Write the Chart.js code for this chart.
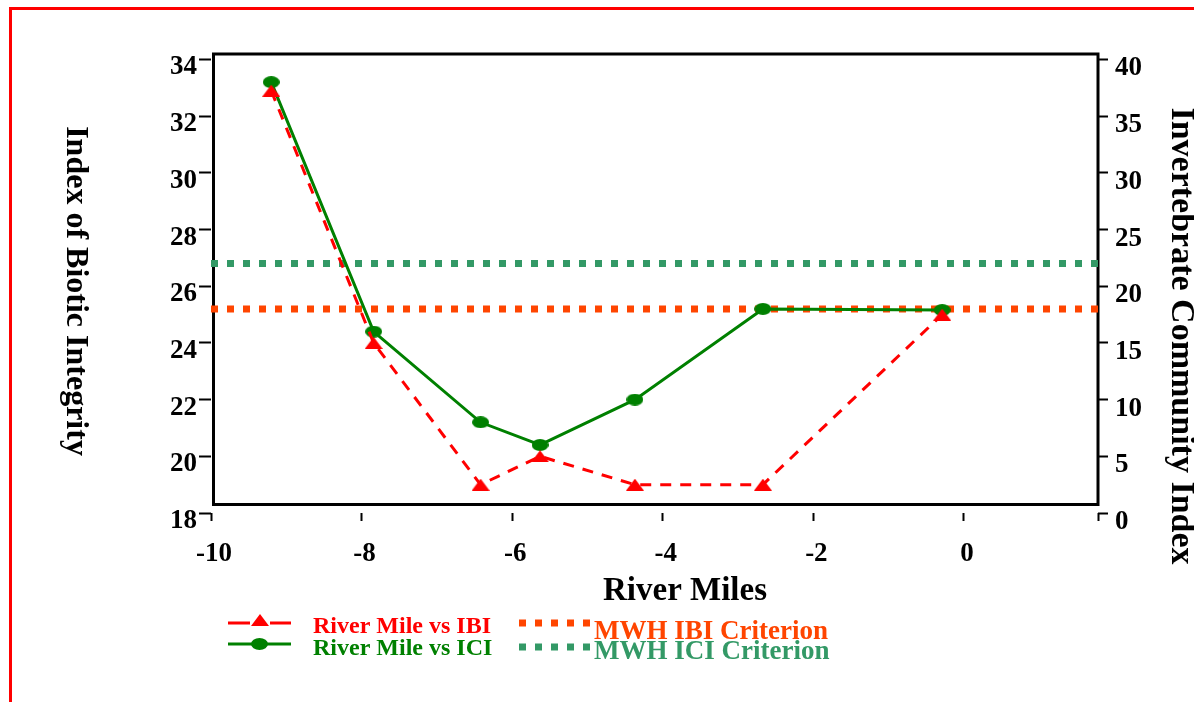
<!DOCTYPE html>
<html>
<head>
<meta charset="utf-8">
<script src="https://cdn.jsdelivr.net/npm/chart.js@4.4.1/dist/chart.umd.min.js"></script>
<style>
  body { margin: 0; background: #fff; }
  #wrap { width: 1194px; height: 702px; }
</style>
</head>
<body>
<div id="wrap"><canvas id="riverChart" width="1194" height="702"></canvas></div>
<script>
// values
var riverMiles = [-9.2, -7.84, -6.42, -5.63, -4.37, -2.67, -0.29];
var ibiValues = [32.9, 24, 19, 20, 19, 19, 25];
var iciValues = [38, 16, 8, 6, 10, 18, 17.9];
var criterionMiles = [-10, 1.78];
var ibiCriterion = [25.2, 25.2];
var iciCriterion = [22, 22];

var RED = '#ff0000', GREEN = '#008000', ORANGE = '#ff4500', SEA = '#339966';
var SERIF = '"Liberation Serif", "Times New Roman", serif';

function pairs(xs, ys) {
  return xs.map(function (x, i) { return { x: x, y: ys[i] }; });
}

// flat triangle / oval markers like the original
function triMarker(color) {
  var c = document.createElement('canvas');
  c.width = 18; c.height = 12;
  var g = c.getContext('2d');
  g.fillStyle = color;
  g.beginPath(); g.moveTo(9, 0); g.lineTo(18, 12); g.lineTo(0, 12); g.closePath(); g.fill();
  return c;
}
function ovalMarker(color) {
  var c = document.createElement('canvas');
  c.width = 17; c.height = 12;
  var g = c.getContext('2d');
  g.fillStyle = color;
  g.beginPath(); g.ellipse(8.5, 6, 8.5, 6, 0, 0, Math.PI * 2); g.fill();
  return c;
}
var tri = triMarker(RED), oval = ovalMarker(GREEN);

var tickFont = { family: SERIF, size: 27, weight: 'bold' };

var decorations = {
  id: 'decorations',
  beforeDraw: function (chart) {
    var ctx = chart.ctx;
    ctx.save();
    ctx.fillStyle = RED;
    ctx.fillRect(9, 7, 3, 702);
    ctx.fillRect(9, 7, 1194, 3);
    ctx.restore();
  },
  beforeDatasetsDraw: function (chart) {
    var ctx = chart.ctx, a = chart.chartArea;
    ctx.save();
    ctx.strokeStyle = '#000';
    ctx.lineWidth = 3;
    ctx.strokeRect(a.left + 2.5, a.top - 5.5, a.right - a.left - 2.5, a.bottom - a.top - 3);
    ctx.restore();
  },
  afterDraw: function (chart) {
    var ctx = chart.ctx;
    ctx.save();
    ctx.fillStyle = '#000';
    ctx.font = 'bold 33px ' + SERIF;
    ctx.textAlign = 'center';
    ctx.textBaseline = 'alphabetic';
    ctx.fillText('River Miles', 685, 600);

    ctx.textBaseline = 'middle';
    ctx.save();
    ctx.font = 'bold 32px ' + SERIF;
    ctx.translate(75, 291);
    ctx.rotate(Math.PI / 2);
    ctx.fillText('Index of Biotic Integrity', 0, 0);
    ctx.restore();
    ctx.save();
    ctx.font = 'bold 34px ' + SERIF;
    ctx.translate(1181, 336);
    ctx.rotate(Math.PI / 2);
    ctx.fillText('Invertebrate Community Index', 0, 0);
    ctx.restore();

    // legend
    ctx.textAlign = 'left';
    ctx.textBaseline = 'alphabetic';
    ctx.lineWidth = 3;
    ctx.strokeStyle = RED;
    ctx.beginPath();
    ctx.moveTo(228, 623); ctx.lineTo(250, 623);
    ctx.moveTo(270, 623); ctx.lineTo(291, 623);
    ctx.stroke();
    ctx.drawImage(tri, 251, 614);
    ctx.strokeStyle = GREEN;
    ctx.beginPath(); ctx.moveTo(228, 644); ctx.lineTo(291, 644); ctx.stroke();
    ctx.drawImage(oval, 251, 638);

    ctx.font = 'bold 24px ' + SERIF;
    ctx.fillStyle = RED;
    ctx.fillText('River Mile vs IBI', 313, 633);
    ctx.fillStyle = GREEN;
    ctx.fillText('River Mile vs ICI', 313, 655);

    ctx.lineWidth = 7;
    ctx.setLineDash([7, 9]);
    ctx.strokeStyle = ORANGE;
    ctx.beginPath(); ctx.moveTo(519, 623); ctx.lineTo(592, 623); ctx.stroke();
    ctx.strokeStyle = SEA;
    ctx.beginPath(); ctx.moveTo(519, 647); ctx.lineTo(592, 647); ctx.stroke();
    ctx.setLineDash([]);

    ctx.font = 'bold 27px ' + SERIF;
    ctx.fillStyle = ORANGE;
    ctx.fillText('MWH IBI Criterion', 594, 639);
    ctx.fillStyle = SEA;
    ctx.fillText('MWH ICI Criterion', 594, 659);
    ctx.restore();
  }
};

new Chart(document.getElementById('riverChart'), {
  type: 'line',
  data: {
    datasets: [
      {
        label: 'MWH IBI Criterion',
        data: pairs(criterionMiles, ibiCriterion),
        yAxisID: 'y',
        borderColor: ORANGE,
        borderWidth: 7,
        borderDash: [7, 9],
        borderCapStyle: 'butt',
        pointRadius: 0,
        order: 3
      },
      {
        label: 'MWH ICI Criterion',
        data: pairs(criterionMiles, iciCriterion),
        yAxisID: 'y1',
        borderColor: SEA,
        borderWidth: 7,
        borderDash: [7, 9],
        borderCapStyle: 'butt',
        pointRadius: 0,
        order: 4
      },
      {
        label: 'River Mile vs ICI',
        data: pairs(riverMiles, iciValues),
        yAxisID: 'y1',
        borderColor: GREEN,
        borderWidth: 3,
        pointStyle: oval,
        order: 2
      },
      {
        label: 'River Mile vs IBI',
        data: pairs(riverMiles, ibiValues),
        yAxisID: 'y',
        borderColor: RED,
        borderWidth: 3,
        borderDash: [11, 9],
        pointStyle: tri,
        order: 1
      }
    ]
  },
  options: {
    responsive: false,
    devicePixelRatio: 1,
    animation: false,
    layout: { padding: { top: 59.5, left: 0, right: 0, bottom: 0 } },
    plugins: { legend: { display: false }, tooltip: { enabled: false } },
    elements: { line: { tension: 0 } },
    scales: {
      x: {
        type: 'linear',
        min: -10,
        max: 1.78,
        border: { display: false },
        grid: { drawOnChartArea: false, tickLength: 8, tickWidth: 2, color: '#000', tickColor: '#000' },
        ticks: {
          stepSize: 2,
          autoSkip: false,
          maxRotation: 0,
          padding: 17,
          labelOffset: 3,
          color: '#000',
          font: tickFont,
          callback: function (v) { return Number.isInteger(v) ? String(v) : ''; }
        },
        afterFit: function (s) { s.height = 189; }
      },
      y: {
        position: 'left',
        min: 18,
        max: 34,
        border: { display: false },
        grid: { drawOnChartArea: false, tickLength: 12, tickWidth: 2, color: '#000', tickColor: '#000' },
        ticks: { stepSize: 2, padding: 2, labelOffset: 8, color: '#000', font: tickFont },
        afterFit: function (s) { s.width = 211; }
      },
      y1: {
        position: 'right',
        min: 0,
        max: 40,
        border: { display: false },
        grid: { drawOnChartArea: false, tickLength: 10, tickWidth: 2, color: '#000', tickColor: '#000' },
        ticks: { stepSize: 5, padding: 7, labelOffset: 9, color: '#000', font: tickFont },
        afterFit: function (s) { s.width = 96; }
      }
    }
  },
  plugins: [decorations]
});
</script>
</body>
</html>
